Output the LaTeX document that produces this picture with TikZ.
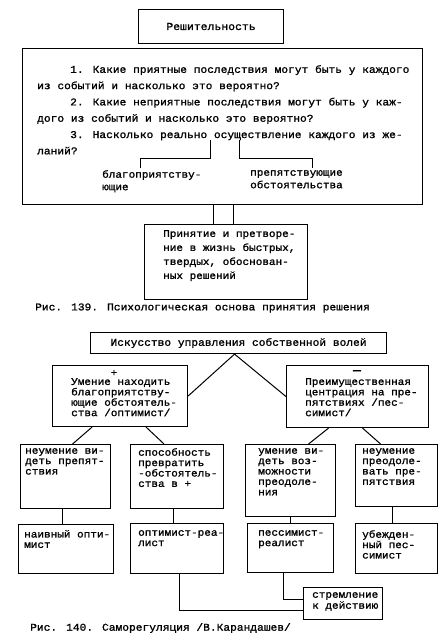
\documentclass[tikz,border=0pt]{standalone}
\usepackage{fontspec}
\newfontfamily\tw[FakeStretch=1.08, FakeBold=1.3]{Liberation Mono}
\usetikzlibrary{positioning}
\tikzstyle{frame} = [draw, line width=1.1pt, rectangle, inner sep=0pt, anchor=north west,
font=\tw\fontsize{10.6}{10}\selectfont]
\tikzstyle{words} = [inner sep=0pt, anchor=north west, align=left,
font=\tw\fontsize{10.2}{10.4}\selectfont]
\tikzstyle{line} = [draw, line width=1pt]

\begin{document}
\begin{tikzpicture}[x=1pt, y=-1pt]
	\useasboundingbox (0,0) rectangle (445,644);
	%% Fig. 139
	\node [frame, minimum width=145, minimum height=34] (res) at (138,9) {Решительность};
	\node [frame, minimum width=400, minimum height=156] (ques) at (22,48) {};
	\node [words, font=\tw\fontsize{10.4}{16.3}\selectfont] (qtext) at (37,65) {%
		\hspace*{33pt}1. Какие приятные последствия могут быть у каждого\\
		из событий и насколько это вероятно?\\
		\hspace*{33pt}2. Какие неприятные последствия могут быть у каж-\\
		дого из событий и насколько это вероятно?\\
		\hspace*{33pt}3. Насколько реально осуществление каждого из же-\\
		ланий?};
	\node [words, font=\tw\fontsize{10.2}{12.5}\selectfont] (fav) at (102,170) {благоприятству-\\ющие};
	\node [words, font=\tw\fontsize{10.2}{12.5}\selectfont] (obst) at (250,170) {препятствующие\\обстоятельства};
	\coordinate (qa) at (210,140);
	\coordinate (qb) at (239,140);
	\draw [line] (qa) -- ++(0,19) -| ([xshift=38, yshift=2]fav.north west);
	\draw [line] (qb) -- ++(0,19) -| ([xshift=62, yshift=2]obst.north west);
	\node [frame, minimum width=163, minimum height=75] (acc) at (144,224) {};
	\node [words, font=\tw\fontsize{10.2}{14}\selectfont] (acct) at (163,230) {Принятие и претворе-\\ние в жизнь быстрых,\\твердых, обоснован-\\ных решений};
	\path ([xshift=-9]ques.south) coordinate (d1);
	\path ([xshift=11]ques.south) coordinate (d2);
	\draw [line] (d1) -- (d1 |- acc.north);
	\draw [line] (d2) -- (d2 |- acc.north);
	\node [words, anchor=west, font=\tw\fontsize{10.4}{10}\selectfont] (cap1) at (35,308) {Рис. 139. Психологическая основа принятия решения};
	%% Fig. 140
	\node [frame, minimum width=296, minimum height=21, font=\tw\fontsize{10.4}{10}\selectfont] (art) at (90,332) {Искусство управления собственной волей};
	\node [frame, minimum width=135, minimum height=61] (opt) at (52,365) {};
	\node [words] (optt) at (71,378) {Умение находить\\благоприятству-\\ющие обстоятель-\\ства /оптимист/};
	\node [words, anchor=center] (plus) at (114,373) {+};
	\node [frame, minimum width=142, minimum height=62] (pes) at (286,365) {};
	\node [words] (pest) at (305,378) {Преимущественная\\центрация на пре-\\пятствиях /пес-\\симист/};
	\node [words, anchor=center, font=\tw\fontsize{12}{12}\bfseries] (minus) at (357,372) {—};
	\path ([xshift=-4]art.south) coordinate (apex);
	\draw [line] (apex) -- (opt.east);
	\draw [line] (apex) -- (pes.west);
	%% second row
	\node [frame, minimum width=90, minimum height=64] (b1) at (20,444) {};
	\node [frame, minimum width=93, minimum height=64] (b2) at (130,444) {};
	\node [frame, minimum width=90, minimum height=72] (b3) at (245,444) {};
	\node [frame, minimum width=82, minimum height=62] (b4) at (355,444) {};
	\node [words] (b1t) at (25,448) {неумение ви-\\деть препят-\\ствия};
	\node [words] (b2t) at (138,448) {способность\\превратить\\-обстоятель-\\ства в +};
	\node [words] (b3t) at (258,448) {умение ви-\\деть воз-\\можности\\преодоле-\\ния};
	\node [words] (b4t) at (362,448) {неумение\\преодоле-\\вать пре-\\пятствия};
	\draw [line] ([xshift=-28]opt.south) -- ([xshift=7]b1.north);
	\draw [line] ([xshift=26]opt.south) -- ([xshift=-13]b2.north);
	\draw [line] ([xshift=-29]pes.south) -- ([xshift=18]b3.north);
	\draw [line] ([xshift=5]pes.south) -- ([xshift=-16]b4.north);
	%% third row
	\node [frame, minimum width=95, minimum height=49] (b5) at (18,524) {};
	\node [frame, minimum width=93, minimum height=50] (b6) at (130,523) {};
	\node [frame, minimum width=86, minimum height=49] (b7) at (247,523) {};
	\node [frame, minimum width=82, minimum height=50] (b8) at (355,523) {};
	\node [words] (b5t) at (24,530) {наивный опти-\\мист};
	\node [words] (b6t) at (138,530) {оптимист-реа-\\лист};
	\node [words] (b7t) at (258,530) {пессимист-\\реалист};
	\node [words] (b8t) at (362,530) {убежден-\\ный пес-\\симист};
	\draw [line] ([xshift=-3]b1.south) -- ([xshift=-3]b1.south |- b5.north);
	\draw [line] ([xshift=-4]b2.south) -- ([xshift=-4]b2.south |- b6.north);
	\draw [line] (b3.south) -- (b3.south |- b7.north);
	\draw [line] ([xshift=-4]b4.south) -- ([xshift=-4]b4.south |- b8.north);
	%% action
	\node [frame, minimum width=79, minimum height=32] (act) at (303,587) {};
	\node [words, font=\tw\fontsize{10.2}{11}\selectfont] (actt) at (312,592) {стремление\\к действию};
	\draw [line] ([xshift=2]b6.south) |- ([yshift=-7]act.west);
	\draw [line] ([xshift=-7]b7.south) |- ([yshift=4]act.west);
	\node [words, anchor=west, font=\tw\fontsize{10.4}{10}\selectfont] (cap2) at (30,628) {Рис. 140. Саморегуляция /В.Карандашев/};
\end{tikzpicture}
\end{document}
